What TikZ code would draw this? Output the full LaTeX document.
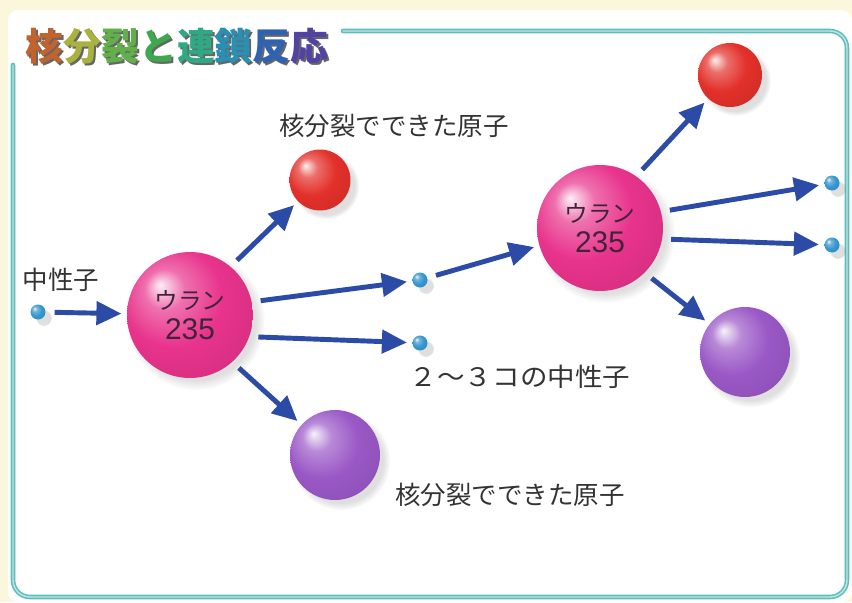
\documentclass[tikz,border=0pt]{standalone}
\usepackage{fontspec}
\newfontfamily\jp{Noto Sans CJK JP}
\newfontfamily\num{Liberation Sans}
\usetikzlibrary{arrows.meta, shadows}
\definecolor{ccream}{HTML}{FBF7DC}
\definecolor{cteal}{HTML}{5FBDBE}
\definecolor{ctealpale}{HTML}{BDE6E4}
\definecolor{carrow}{HTML}{2B4BA6}
\definecolor{cpink}{HTML}{E8338C}
\definecolor{cred}{HTML}{E3302A}
\definecolor{cpurple}{HTML}{9A58C6}
\definecolor{cblue}{HTML}{3596CF}
\definecolor{ctext}{HTML}{333333}
\definecolor{cinner}{HTML}{42243A}
% title colours, one per character
\definecolor{ta}{HTML}{C2622C}
\definecolor{tb}{HTML}{A9B23E}
\definecolor{tc}{HTML}{62B04A}
\definecolor{td}{HTML}{3EA84C}
\definecolor{te}{HTML}{2FA884}
\definecolor{tf}{HTML}{2890B4}
\definecolor{tg}{HTML}{3062B4}
\definecolor{th}{HTML}{5242A4}
% a softer ball: highlight top left, only a little darker at the rim
\makeatletter
\pgfdeclareradialshading[tikz@ball]{orb}{\pgfqpoint{-12bp}{12bp}}{%
  color(0bp)=(tikz@ball!8!white); color(8bp)=(tikz@ball!70!white);
  color(20bp)=(tikz@ball); color(34bp)=(tikz@ball!92!black);
  color(50bp)=(tikz@ball!72!black)}
\makeatother
\tikzset{
  every picture/.style={font=\jp},
  ball/.style={circle, inner sep=0pt, ball color=#1, shading=orb,
    circular drop shadow={shadow xshift=3pt, shadow yshift=-3pt, opacity=0.25}},
  arrow/.style={-{Triangle[length=5mm, width=4.6mm]}, draw=carrow, line width=2.8pt,
    shorten <=5pt, shorten >=3pt},
  note/.style={text=ctext, font=\jp\fontsize{14.5}{17}\selectfont, inner sep=0pt},
  frame/.style={draw=cteal, line width=2.6pt, rounded corners=0.34cm, line cap=round},
}
\newcommand{\ulabel}{ウラン\\{\num\fontsize{17}{17}\selectfont 235}}

\begin{document}
\begin{tikzpicture}[x=0.02cm, y=-0.02cm,
  uranium/.style={ball=cpink, minimum size=2.52cm, align=center, text=cinner,
    font=\jp\fontsize{13.5}{17}\selectfont},
  fragred/.style={ball=cred, minimum size=1.22cm},
  fragpurple/.style={ball=cpurple, minimum size=1.8cm},
  neutron/.style={ball=cblue, minimum size=0.3cm},
  heading/.style={font=\jp\bfseries\fontsize{21.5}{24}\selectfont, inner sep=0pt}]
  \useasboundingbox (0,0) rectangle (852,602);
  \fill[ccream] (0,0) rectangle (852,602);
  \fill[white, rounded corners=0.2cm] (8,10) rectangle (852,602);
  \draw[frame] (343,31) -- (847,31) -- (847,597) -- (13,597) -- (13,65);
  \draw[frame, draw=ctealpale, line width=0.8pt] (343,31) -- (847,31) -- (847,597) -- (13,597) -- (13,65);

  % heading with its shadow
  \node[heading, text=black!60] (hs) at (179,48) {核分裂と連鎖反応};
  \node[heading] (h) at (177,46) {\textcolor{ta}{核}\textcolor{tb}{分}\textcolor{tc}{裂}\textcolor{td}{と}%
    \textcolor{te}{連}\textcolor{tf}{鎖}\textcolor{tg}{反}\textcolor{th}{応}};

  % first fission
  \node[neutron] (n0) at (38,312) {};
  \node[uranium] (u1) at (190,315) {\ulabel};
  \node[fragred] (f1) at (320,180) {};
  \node[neutron] (n1) at (420,280) {};
  \node[neutron] (n2) at (420,343) {};
  \node[fragpurple] (f2) at (335,455) {};

  % second fission
  \node[uranium] (u2) at (600,228) {\ulabel};
  \node[fragred, minimum size=1.28cm] (f3) at (730,75) {};
  \node[neutron] (n3) at (832,183) {};
  \node[neutron] (n4) at (832,245) {};
  \node[fragpurple] (f4) at (745,352) {};

  \node[note] (ln0) at (61,280) {中性子};
  \node[note] (lf1) at (394,126) {核分裂でできた原子};
  \node[note, xscale=1.08] (ln2) at (520,377) {２～３コの中性子};
  \node[note] (lf2) at (510,495) {核分裂でできた原子};

  \draw[arrow] (n0) -- (u1);
  \draw[arrow] (u1.50) -- (f1);
  \draw[arrow] (u1.12) -- (n1);
  \draw[arrow] (u1.-20) -- (n2);
  \draw[arrow] (u1.-48) -- (f2);
  \draw[arrow] (n1) -- (u2);
  \draw[arrow] (u2.55) -- (f3);
  \draw[arrow] (u2.15) -- (n3);
  \draw[arrow] (u2.-10) -- (n4);
  \draw[arrow] (u2.-45) -- (f4);
\end{tikzpicture}
\end{document}
